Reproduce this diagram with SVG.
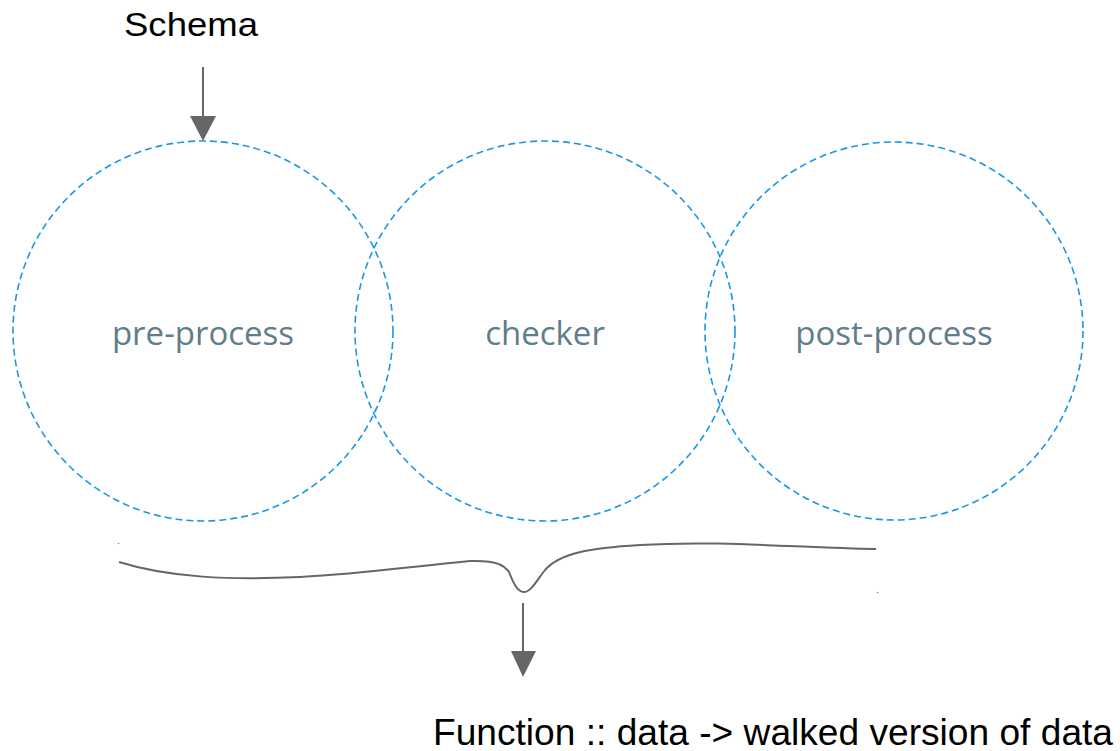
<svg xmlns="http://www.w3.org/2000/svg" width="1120" height="751" viewBox="0 0 1120 751">
<style>
.c{fill:none;stroke:#1a96e6;stroke-width:1.6;stroke-dasharray:7,4}
.lbl{font-family:"Open Sans","Noto Sans",sans-serif;font-size:33px;fill:#607d8b;text-anchor:middle}
.t{font-family:"Liberation Sans",Arial,sans-serif;fill:#000}
.ln{fill:none;stroke:#666;stroke-width:2}
.ah{fill:#666}
</style>
<rect width="1120" height="751" fill="#fff"/>
<g id="pre-process"><circle class="c" cx="203" cy="331" r="190"/><text class="lbl" x="203" y="345">pre-process</text></g>
<g id="checker"><circle class="c" cx="545" cy="331" r="190"/><text class="lbl" x="545" y="345">checker</text></g>
<g id="post-process"><circle class="c" cx="894" cy="331" r="189"/><text class="lbl" x="894" y="345">post-process</text></g>
<g id="schema"><text class="t" x="124" y="36" font-size="33" textLength="134" lengthAdjust="spacingAndGlyphs">Schema</text></g>
<g id="output"><text class="t" x="433" y="745" font-size="37" textLength="680" lengthAdjust="spacingAndGlyphs">Function :: data -&gt; walked version of data</text></g>
<g id="connectors">
<line class="ln" x1="203" y1="67" x2="203" y2="118"/>
<polygon class="ah" points="190,116 216,116 203,141"/>
<path class="ln" d="M119,562 C170,578 230,580 300,577 C360,574 400,568 470,561 C500,560 505,567 509,572 C513,582 517,592 524,592 C531,592 537,580 545,570 C560,553 590,548 640,545 C720,540 800,548 876,549"/>
<line class="ln" x1="523" y1="603" x2="523" y2="653"/>
<polygon class="ah" points="511,651 536,651 523,677"/>
<circle cx="118.5" cy="543.5" r="0.8" fill="#888"/>
<circle cx="877.5" cy="592.5" r="0.8" fill="#888"/>
</g>
</svg>
